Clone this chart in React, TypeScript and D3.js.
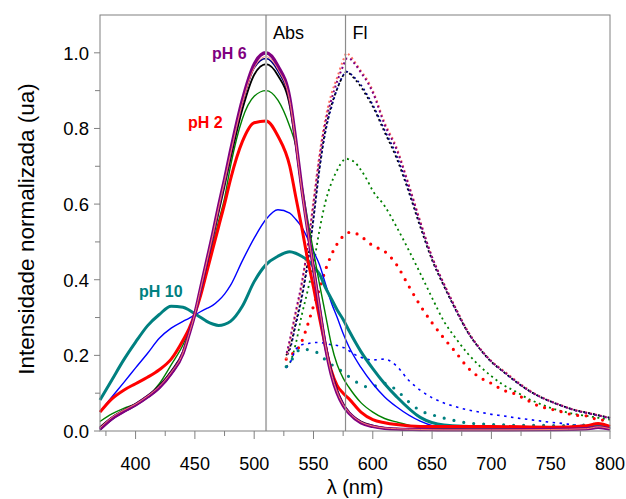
import React from 'react';
import * as d3 from 'd3';

// absorption spectra (solid) sampled on a shared wavelength grid
const absWl = [370, 380, 390, 400, 410, 420, 430, 440, 445, 450, 455, 460, 465, 470, 475, 480, 490, 500, 510, 520, 530,
  535, 540, 545, 550, 555, 560, 565, 570, 575, 580, 590, 600, 610, 620, 640, 660, 700, 750, 780, 790, 800];

const absPurple = [0.005, 0.033, 0.052, 0.069, 0.09, 0.115, 0.152, 0.205, 0.255, 0.31, 0.38, 0.45, 0.52, 0.595, 0.665, 0.74,
  0.875, 0.97, 1.0, 0.965, 0.88, 0.77, 0.645, 0.535, 0.43, 0.325, 0.225, 0.15, 0.1, 0.068, 0.047,
  0.022, 0.012, 0.007, 0.005, 0.004, 0.003, 0.003, 0.004, 0.006, 0.01, 0.005];
const absSalmon = [0.008, 0.036, 0.055, 0.071, 0.092, 0.118, 0.155, 0.207, 0.256, 0.31, 0.378, 0.447, 0.516, 0.59, 0.66, 0.732,
  0.866, 0.96, 0.99, 0.956, 0.872, 0.765, 0.64, 0.532, 0.43, 0.327, 0.228, 0.153, 0.103, 0.07, 0.049,
  0.024, 0.013, 0.008, 0.006, 0.004, 0.003, 0.003, 0.004, 0.006, 0.011, 0.006];
const absNavy = [0.003, 0.03, 0.05, 0.067, 0.088, 0.113, 0.15, 0.203, 0.253, 0.308, 0.378, 0.448, 0.518, 0.592, 0.662, 0.736,
  0.868, 0.96, 0.985, 0.952, 0.87, 0.762, 0.64, 0.532, 0.43, 0.327, 0.228, 0.152, 0.102, 0.069, 0.048,
  0.023, 0.012, 0.007, 0.005, 0.004, 0.003, 0.003, 0.004, 0.006, 0.01, 0.005];
const absBlack = [0.01, 0.036, 0.055, 0.072, 0.093, 0.12, 0.158, 0.21, 0.258, 0.31, 0.373, 0.44, 0.508, 0.578, 0.648, 0.72,
  0.85, 0.942, 0.97, 0.94, 0.86, 0.758, 0.64, 0.535, 0.435, 0.333, 0.235, 0.16, 0.108, 0.073, 0.05,
  0.025, 0.014, 0.008, 0.006, 0.004, 0.003, 0.003, 0.004, 0.006, 0.01, 0.005];
const absGreen = [0.025, 0.045, 0.06, 0.071, 0.09, 0.125, 0.175, 0.228, 0.265, 0.31, 0.365, 0.425, 0.49, 0.555, 0.615, 0.7,
  0.825, 0.885, 0.9, 0.875, 0.805, 0.755, 0.655, 0.56, 0.475, 0.39, 0.31, 0.23, 0.175, 0.14, 0.115,
  0.075, 0.05, 0.033, 0.024, 0.009, 0.006, 0.005, 0.005, 0.007, 0.012, 0.008];
const absRed = [0.05, 0.085, 0.108, 0.125, 0.142, 0.162, 0.19, 0.24, 0.27, 0.31, 0.36, 0.42, 0.48, 0.54, 0.6, 0.665,
  0.765, 0.815, 0.82, 0.78, 0.7, 0.62, 0.54, 0.455, 0.38, 0.3, 0.225, 0.16, 0.12, 0.1, 0.085,
  0.05, 0.03, 0.022, 0.017, 0.012, 0.012, 0.012, 0.01, 0.014, 0.02, 0.012];
const absBlue = [0.051, 0.09, 0.128, 0.167, 0.205, 0.245, 0.272, 0.29, 0.298, 0.307, 0.316, 0.324, 0.332, 0.345, 0.362, 0.385,
  0.45, 0.51, 0.56, 0.585, 0.576, 0.56, 0.54, 0.51, 0.475, 0.44, 0.39, 0.34, 0.3, 0.258, 0.222,
  0.168, 0.125, 0.09, 0.064, 0.026, 0.008, 0.004, 0.004, 0.005, 0.008, 0.006];
const absTeal = [0.082, 0.135, 0.188, 0.235, 0.278, 0.308, 0.33, 0.327, 0.32, 0.31, 0.3, 0.29, 0.283, 0.279, 0.282, 0.29,
  0.33, 0.395, 0.44, 0.462, 0.474, 0.47, 0.462, 0.452, 0.435, 0.415, 0.38, 0.35, 0.32, 0.295, 0.265,
  0.21, 0.165, 0.125, 0.091, 0.036, 0.016, 0.01, 0.008, 0.01, 0.014, 0.008];

// fluorescence spectra (dotted)
const flWl = [527, 530, 535, 540, 545, 550, 555, 560, 565, 570, 575, 578, 580, 585, 590, 595, 600, 610, 620, 630,
  640, 650, 660, 670, 680, 690, 700, 710, 720, 730, 740, 750, 760, 770, 780, 790, 800];

const flSalmon = [0.19, 0.235, 0.31, 0.385, 0.485, 0.61, 0.73, 0.825, 0.89, 0.935, 0.98, 1.0, 0.995, 0.975, 0.952,
  0.93, 0.9, 0.815, 0.75, 0.655, 0.555, 0.46, 0.39, 0.325, 0.265, 0.22, 0.185, 0.16, 0.135, 0.112,
  0.093, 0.079, 0.067, 0.056, 0.049, 0.042, 0.035];
const flPurple = [0.2, 0.24, 0.315, 0.39, 0.485, 0.6, 0.72, 0.815, 0.875, 0.925, 0.965, 0.985, 0.985, 0.97, 0.948,
  0.925, 0.895, 0.81, 0.745, 0.652, 0.552, 0.46, 0.388, 0.323, 0.263, 0.219, 0.184, 0.158, 0.133, 0.11,
  0.092, 0.078, 0.066, 0.055, 0.048, 0.041, 0.034];
const flNavy = [0.197, 0.215, 0.28, 0.35, 0.44, 0.56, 0.69, 0.79, 0.855, 0.905, 0.94, 0.95, 0.947, 0.933, 0.915,
  0.89, 0.862, 0.795, 0.728, 0.64, 0.545, 0.455, 0.385, 0.32, 0.262, 0.218, 0.183, 0.157, 0.132, 0.11,
  0.092, 0.078, 0.066, 0.055, 0.048, 0.041, 0.034];
const flBlack = [0.2, 0.22, 0.285, 0.355, 0.445, 0.565, 0.695, 0.795, 0.86, 0.905, 0.94, 0.95, 0.946, 0.93, 0.91,
  0.885, 0.858, 0.79, 0.722, 0.635, 0.54, 0.452, 0.383, 0.32, 0.262, 0.218, 0.183, 0.157, 0.132, 0.11,
  0.092, 0.078, 0.066, 0.056, 0.049, 0.042, 0.035];
const flGreen = [0.17, 0.18, 0.23, 0.305, 0.37, 0.44, 0.53, 0.605, 0.655, 0.69, 0.715, 0.72, 0.718, 0.71, 0.69,
  0.665, 0.635, 0.595, 0.54, 0.48, 0.417, 0.352, 0.29, 0.245, 0.205, 0.172, 0.145, 0.122, 0.105, 0.087,
  0.073, 0.061, 0.052, 0.045, 0.04, 0.035, 0.03];
const flRed = [0.19, 0.2, 0.21, 0.236, 0.28, 0.33, 0.375, 0.425, 0.465, 0.495, 0.515, 0.522, 0.525, 0.523, 0.515,
  0.502, 0.49, 0.475, 0.44, 0.385, 0.332, 0.286, 0.245, 0.208, 0.168, 0.142, 0.126, 0.108, 0.098, 0.082,
  0.066, 0.058, 0.05, 0.042, 0.04, 0.03, 0.028];
const flBlue = [0.167, 0.179, 0.215, 0.228, 0.231, 0.234, 0.234, 0.232, 0.228, 0.226, 0.221, 0.218, 0.212, 0.202, 0.195,
  0.19, 0.188, 0.19, 0.172, 0.135, 0.108, 0.088, 0.074, 0.064, 0.056, 0.05, 0.044, 0.04, 0.035, 0.031,
  0.027, 0.023, 0.02, 0.016, 0.014, 0.012, 0.01];
const flTeal = [0.17, 0.18, 0.205, 0.218, 0.215, 0.21, 0.205, 0.188, 0.176, 0.167, 0.155, 0.15, 0.143, 0.132, 0.122,
  0.117, 0.118, 0.126, 0.108, 0.078, 0.054, 0.043, 0.034, 0.027, 0.021, 0.019, 0.017, 0.016, 0.015, 0.015,
  0.015, 0.014, 0.014, 0.014, 0.016, 0.018, 0.015];

const xTicks = [400, 450, 500, 550, 600, 650, 700, 750, 800];
const xMinor = [375, 425, 475, 525, 575, 625, 675, 725, 775];
const yTicks = [0, 0.2, 0.4, 0.6, 0.8, 1.0];
const yMinor = [0.1, 0.3, 0.5, 0.7, 0.9];
const markers = [
  { wl: 510, label: 'Abs' },
  { wl: 577, label: 'Fl' },
];

const width = 626;
const height = 499;
const margin = { top: 15, right: 16, bottom: 68, left: 100 };
const font = 'Arial, "Liberation Sans", sans-serif';

const App = () => {
  const x = d3.scaleLinear().domain([370, 800]).range([margin.left, width - margin.right]);
  const y = d3.scaleLinear().domain([0, 1.1]).range([height - margin.bottom, margin.top]);

  const line = (wl: number[], vals: number[]) =>
    d3.line<number>()
      .x((_, i) => x(wl[i]))
      .y(d => y(d))
      .curve(d3.curveMonotoneX)(vals) || '';

  const flLines = [
    { vals: flGreen, color: '#008000', w: 1.8, dash: '2,3.5', cap: 'butt' },
    { vals: flRed, color: '#ff0000', w: 3.2, dash: '0,8.5', cap: 'round' },
    { vals: flBlue, color: '#0000ff', w: 1.6, dash: '2.5,4.5', cap: 'butt' },
    { vals: flTeal, color: '#008080', w: 3.2, dash: '0,10', cap: 'round' },
    { vals: flBlack, color: '#000000', w: 1.8, dash: '2,3', cap: 'butt' },
    { vals: flNavy, color: '#000080', w: 1.8, dash: '2,3', cap: 'butt', offset: 2.5 },
    { vals: flSalmon, color: '#ff7060', w: 2, dash: '2,3', cap: 'butt' },
    { vals: flPurple, color: '#800080', w: 2, dash: '2,3', cap: 'butt', offset: 2.5 },
  ];

  const absLines = [
    { vals: absBlue, color: '#0000ff', w: 1.4 },
    { vals: absTeal, color: '#008080', w: 3 },
    { vals: absGreen, color: '#008000', w: 1.4 },
    { vals: absRed, color: '#ff0000', w: 3 },
    { vals: absNavy, color: '#000080', w: 1.6 },
    { vals: absBlack, color: '#000000', w: 1.8 },
    { vals: absPurple, color: '#800080', w: 3.4 },
    { vals: absSalmon, color: '#ff8070', w: 1 },
  ];

  const x0 = margin.left;
  const x1 = width - margin.right;
  const y0 = height - margin.bottom;
  const y1 = margin.top;

  return (
    <div style={{ position: 'absolute', left: 0, top: 0 }}>
      <svg width={width} height={height} style={{ display: 'block', fontFamily: font }}>
        <rect width={width} height={height} fill="#ffffff" />

        {flLines.map((s, i) => (
          <path key={'fl' + i} d={line(flWl, s.vals)} fill="none" stroke={s.color} strokeWidth={s.w}
            strokeDasharray={s.dash} strokeDashoffset={s.offset || 0} strokeLinecap={s.cap as any} />
        ))}

        {absLines.map((s, i) => (
          <path key={'abs' + i} d={line(absWl, s.vals)} fill="none" stroke={s.color} strokeWidth={s.w}
            strokeLinejoin="round" />
        ))}

        {/* marker lines */}
        <line x1={x(510)} x2={x(510)} y1={y1} y2={y0} stroke="#b4b4b4" strokeWidth={2} />
        <line x1={x(577)} x2={x(577)} y1={y1} y2={y0} stroke="#8c8c8c" strokeWidth={1.2} />
        {markers.map(m => (
          <text key={m.label} x={x(m.wl) + 7} y={39} fontSize={18} fill="#000">{m.label}</text>
        ))}

        {/* frame */}
        <rect x={x0} y={y1} width={x1 - x0} height={y0 - y1} fill="none" stroke="#808080" strokeWidth={1} />

        {/* x axis */}
        {xTicks.map(t => (
          <g key={'xt' + t}>
            <line x1={x(t)} x2={x(t)} y1={y0} y2={y0 + 8} stroke="#808080" />
            <text x={x(t)} y={y0 + 39} textAnchor="middle" fontSize={18} fill="#000">{t}</text>
          </g>
        ))}
        {xMinor.map(t => (
          <line key={'xm' + t} x1={x(t)} x2={x(t)} y1={y0} y2={y0 + 5} stroke="#808080" />
        ))}

        {/* y axis */}
        {yTicks.map(t => (
          <g key={'yt' + t}>
            <line x1={x0 - 6} x2={x0} y1={y(t)} y2={y(t)} stroke="#808080" />
            <text x={x0 - 11} y={y(t) + 7} textAnchor="end" fontSize={18.5} fill="#000">{t.toFixed(1)}</text>
          </g>
        ))}
        {yMinor.map(t => (
          <line key={'ym' + t} x1={x0 - 5} x2={x0} y1={y(t)} y2={y(t)} stroke="#808080" />
        ))}

        {/* series labels */}
        <text x={212} y={59} fontSize={16} fontWeight="bold" fill="#800080">pH 6</text>
        <text x={188} y={128} fontSize={16} fontWeight="bold" fill="#ff0000">pH 2</text>
        <text x={139} y={297} fontSize={16} fontWeight="bold" fill="#008080">pH 10</text>

        {/* axis titles */}
        <text x={(x0 + x1) / 2} y={494} textAnchor="middle" fontSize={20} fill="#000">λ (nm)</text>
        <text transform={`translate(34, ${(y0 + y1) / 2 + 6}) rotate(-90)`} textAnchor="middle" fontSize={22.5}
          fill="#000">Intensidade normalizada (ua)</text>
      </svg>
    </div>
  );
};

export default App;
